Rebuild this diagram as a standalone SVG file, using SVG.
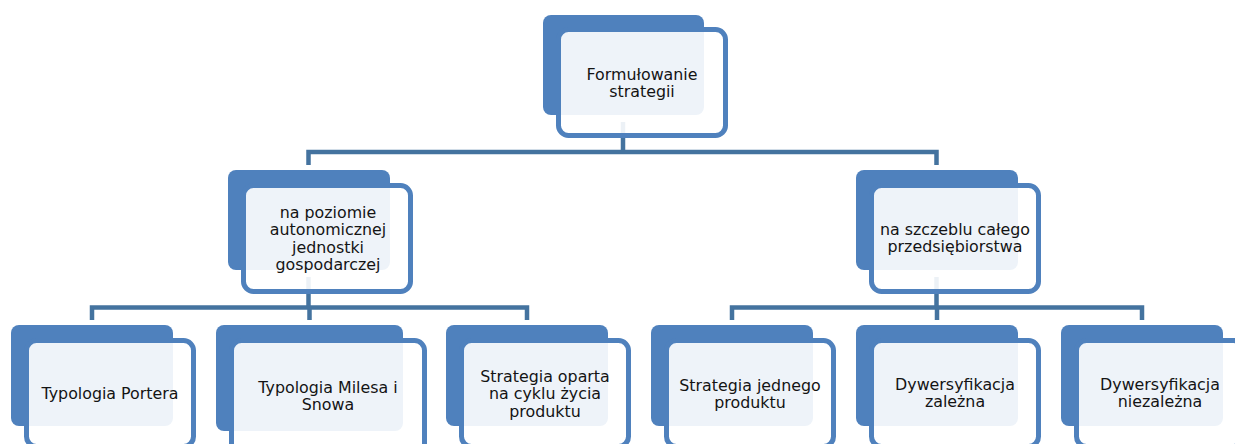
<svg xmlns="http://www.w3.org/2000/svg" width="1235" height="444" viewBox="0 0 1235 444">
<style>
.bk{fill:#4F81BD}
.fr{fill:#FFFFFF;fill-opacity:0.9;stroke:#4F81BD;stroke-width:5}
.cn{fill:none;stroke:#44739F;stroke-width:4.5}
text{font-family:"DejaVu Sans","Verdana",sans-serif;font-size:15.85px;fill:#141414;text-anchor:middle}
</style>
<g id="connectors">
<path class="cn" d="M623,122 V152 M308.5,165 V152 H936.5 V165"/>
<path class="cn" d="M308.5,277 V307.5 M92,320 V307.5 H527 V320 M309.5,307.5 V320"/>
<path class="cn" d="M936.5,277 V307.5 M732,320 V307.5 H1142 V320 M937,307.5 V320"/>
</g>
<g id="n-top">
<rect class="bk" x="543" y="15" width="161" height="100" rx="8"/>
<rect class="fr" x="558.5" y="29.5" width="167" height="106" rx="10"/>
<text x="642" y="80">Formułowanie</text>
<text x="642" y="97">strategii</text>
</g>
<g id="n-left">
<rect class="bk" x="228" y="170" width="162" height="100" rx="8"/>
<rect class="fr" x="243.5" y="185.5" width="167" height="106" rx="10"/>
<text x="328" y="218">na poziomie</text>
<text x="328" y="235.3">autonomicznej</text>
<text x="328" y="252.6">jednostki</text>
<text x="328" y="270">gospodarczej</text>
</g>
<g id="n-right">
<rect class="bk" x="856" y="170" width="162" height="100" rx="8"/>
<rect class="fr" x="871.5" y="185.5" width="167" height="106" rx="10"/>
<text x="955" y="235">na szczeblu całego</text>
<text x="955" y="252.3">przedsiębiorstwa</text>
</g>
<g id="n-porter">
<rect class="bk" x="11" y="325" width="162" height="101" rx="8"/>
<rect class="fr" x="26.5" y="340.5" width="167" height="106" rx="10"/>
<text x="110" y="399">Typologia Portera</text>
</g>
<g id="n-miles">
<rect class="bk" x="216" y="325" width="187" height="106" rx="8"/>
<rect class="fr" x="231.5" y="340.5" width="193" height="123" rx="10"/>
<text x="328" y="393">Typologia Milesa i</text>
<text x="328" y="410">Snowa</text>
</g>
<g id="n-cycle">
<rect class="bk" x="446" y="325" width="162" height="101" rx="8"/>
<rect class="fr" x="461.5" y="340.5" width="167" height="106" rx="10"/>
<text x="545" y="382">Strategia oparta</text>
<text x="545" y="399.3">na cyklu życia</text>
<text x="545" y="416.6">produktu</text>
</g>
<g id="n-single">
<rect class="bk" x="651" y="325" width="162" height="101" rx="8"/>
<rect class="fr" x="666.5" y="340.5" width="167" height="106" rx="10"/>
<text x="750" y="391">Strategia jednego</text>
<text x="750" y="408">produktu</text>
</g>
<g id="n-related">
<rect class="bk" x="856" y="325" width="162" height="101" rx="8"/>
<rect class="fr" x="871.5" y="340.5" width="167" height="106" rx="10"/>
<text x="955" y="390">Dywersyfikacja</text>
<text x="955" y="407">zależna</text>
</g>
<g id="n-unrelated">
<rect class="bk" x="1061" y="325" width="162" height="101" rx="8"/>
<rect class="fr" x="1076.5" y="340.5" width="167" height="106" rx="10"/>
<text x="1160" y="390">Dywersyfikacja</text>
<text x="1160" y="407">niezależna</text>
</g>
</svg>
